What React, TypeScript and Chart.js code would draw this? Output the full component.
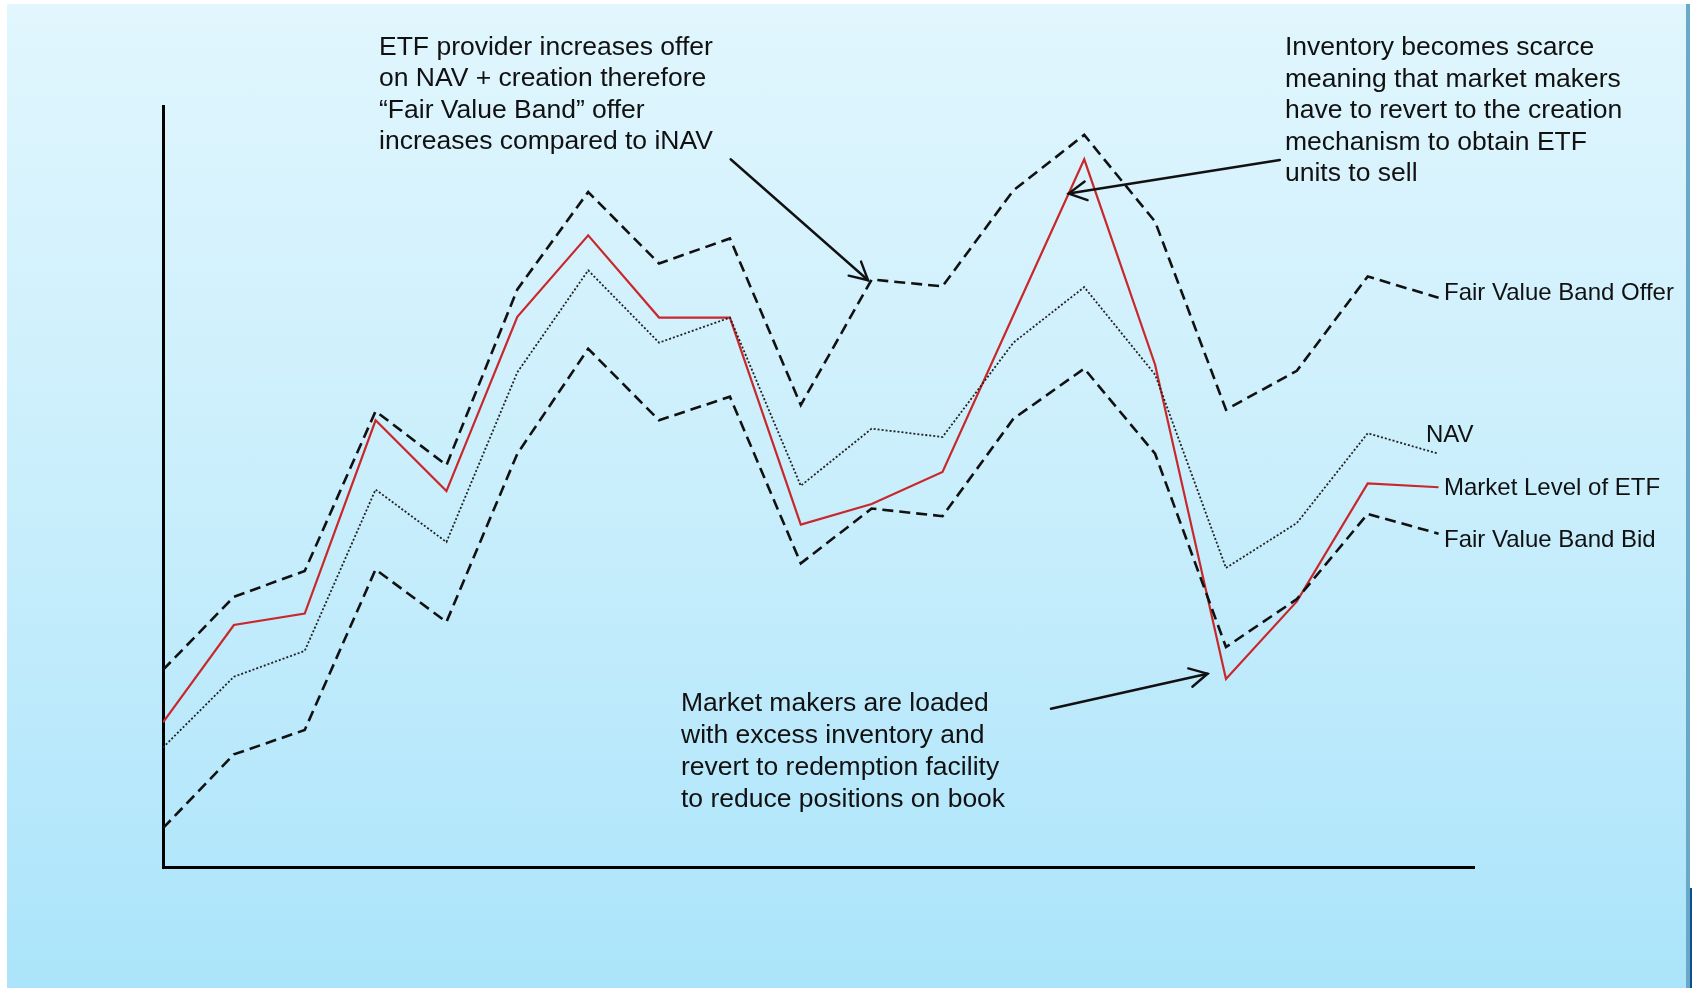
import React, { useEffect, useRef } from "react";
import { Chart, registerables } from "chart.js";

Chart.register(...registerables);

// ---- data (x = period index, y = relative price level 0..100) ----
const periods = [0, 1, 2, 3, 4, 5, 6, 7, 8, 9, 10, 11, 12, 13, 14, 15, 16, 17, 18];
const fairValueBandOffer = [25.9, 35.5, 38.9, 59.9, 52.8, 75.9, 88.7, 79.3, 82.6, 60.7, 77.2, 76.3, 88.9, 96.2, 84.8, 60.1, 65.2, 77.6, 74.8];
const nav = [15.7, 25.0, 28.4, 49.6, 42.7, 65.0, 78.4, 68.9, 72.2, 50.1, 57.6, 56.5, 68.9, 76.2, 64.7, 39.3, 45.2, 57.0, 54.3];
const marketLevel = [19.0, 31.8, 33.3, 58.7, 49.4, 72.3, 83.0, 72.2, 72.2, 45.0, 47.7, 51.9, 72.5, 93.0, 66.0, 24.7, 34.9, 50.4, 49.9];
const fairValueBandBid = [5.1, 14.8, 18.0, 39.1, 32.2, 54.3, 68.1, 58.7, 61.8, 39.9, 47.1, 46.1, 58.9, 65.5, 54.3, 28.9, 35.2, 46.4, 43.8];

const seriesLabels = ["Fair Value Band Offer", "NAV", "Market Level of ETF", "Fair Value Band Bid"];

const annotation1 = [
  "ETF provider increases offer",
  "on NAV + creation therefore",
  "\u201CFair Value Band\u201D offer",
  "increases compared to iNAV",
];
const annotation2 = [
  "Inventory becomes scarce",
  "meaning that market makers",
  "have to revert to the creation",
  "mechanism to obtain ETF",
  "units to sell",
];
const annotation3 = [
  "Market makers are loaded",
  "with excess inventory and",
  "revert to redemption facility",
  "to reduce positions on book",
];

// arrows in data coordinates: [fromX, fromY, toX, toY]
const arrows = [
  [8.01, 93.0, 9.95, 77.1],
  [15.76, 92.9, 12.78, 88.5],
  [12.53, 20.8, 14.74, 25.4],
];

const FONT = '"Liberation Sans", Arial, Helvetica, sans-serif';

const annotationPlugin = {
  id: "annotationsPlugin",
  afterDatasetsDraw(chart: any) {
    const ctx = chart.ctx as CanvasRenderingContext2D;
    const xs = chart.scales.x;
    const ys = chart.scales.y;
    ctx.save();
    ctx.fillStyle = "#111";
    ctx.textBaseline = "alphabetic";
    ctx.textAlign = "left";

    const drawBlock = (lines: string[], x: number, y: number, lh: number, size: number) => {
      ctx.font = `${size}px ${FONT}`;
      lines.forEach((t, i) => ctx.fillText(t, x, y + i * lh));
    };
    drawBlock(annotation1, 379, 55, 31.3, 26.5);
    drawBlock(annotation2, 1285, 55, 31.5, 26.5);
    drawBlock(annotation3, 681, 711, 32.1, 26.5);

    // series labels
    ctx.font = `24px ${FONT}`;
    const labelPos = [
      [1444, 300],
      [1426, 442],
      [1444, 495],
      [1444, 547],
    ];
    seriesLabels.forEach((t, i) => ctx.fillText(t, labelPos[i][0], labelPos[i][1]));

    // arrows
    ctx.strokeStyle = "#111";
    ctx.lineWidth = 2.4;
    ctx.lineCap = "round";
    arrows.forEach(([fx, fy, tx, ty]) => {
      const x1 = xs.getPixelForValue(fx);
      const y1 = ys.getPixelForValue(fy);
      const x2 = xs.getPixelForValue(tx);
      const y2 = ys.getPixelForValue(ty);
      ctx.beginPath();
      ctx.moveTo(x1, y1);
      ctx.lineTo(x2, y2);
      ctx.stroke();
      const ang = Math.atan2(y1 - y2, x1 - x2);
      const len = 20;
      const spread = (28 * Math.PI) / 180;
      ctx.beginPath();
      ctx.moveTo(x2 + len * Math.cos(ang - spread), y2 + len * Math.sin(ang - spread));
      ctx.lineTo(x2, y2);
      ctx.lineTo(x2 + len * Math.cos(ang + spread), y2 + len * Math.sin(ang + spread));
      ctx.stroke();
    });
    ctx.restore();
  },
};

const toPoints = (vals: number[]) => periods.map((p, i) => ({ x: p, y: vals[i] }));

export default function App() {
  const canvasRef = useRef<HTMLCanvasElement | null>(null);

  useEffect(() => {
    if (!canvasRef.current) return;
    const chart = new Chart(canvasRef.current, {
      type: "line",
      data: {
        datasets: [
          {
            label: seriesLabels[1],
            data: toPoints(nav),
            borderColor: "#222",
            borderWidth: 1.8,
            borderDash: [2, 2],
            pointRadius: 0,
            tension: 0,
          },
          {
            label: seriesLabels[3],
            data: toPoints(fairValueBandBid),
            borderColor: "#111",
            borderWidth: 2.6,
            borderDash: [11, 6],
            pointRadius: 0,
            tension: 0,
          },
          {
            label: seriesLabels[0],
            data: toPoints(fairValueBandOffer),
            borderColor: "#111",
            borderWidth: 2.6,
            borderDash: [11, 6],
            pointRadius: 0,
            tension: 0,
          },
          {
            label: seriesLabels[2],
            data: toPoints(marketLevel),
            borderColor: "#c8282b",
            borderWidth: 2.2,
            pointRadius: 0,
            tension: 0,
          },
        ],
      },
      options: {
        responsive: false,
        animation: false,
        devicePixelRatio: 1,
        layout: { padding: { left: 163, right: 218, top: 106, bottom: 121 } },
        plugins: {
          legend: { display: false },
          tooltip: { enabled: false },
        },
        scales: {
          x: {
            type: "linear",
            min: 0,
            max: 18.5,
            ticks: { display: false },
            grid: { display: false, drawTicks: false },
            border: { display: true, color: "#000", width: 3 },
          },
          y: {
            type: "linear",
            min: 0,
            max: 100,
            ticks: { display: false },
            grid: { display: false, drawTicks: false },
            border: { display: true, color: "#000", width: 3 },
          },
        },
      },
      plugins: [annotationPlugin],
    } as any);
    return () => chart.destroy();
  }, []);

  return (
    <div
      style={{
        position: "fixed",
        left: 0,
        top: 0,
        width: 1692,
        height: 988,
        background: "#fff",
        overflow: "hidden",
      }}
    >
      <div
        style={{
          position: "absolute",
          left: 7,
          top: 4,
          width: 1679,
          height: 984,
          background: "linear-gradient(to bottom, #e1f6fd 0%, #c9eefc 50%, #abe4fa 100%)",
        }}
      />
      <div style={{ position: "absolute", left: 1686, top: 4, width: 4, height: 984, background: "#6aa8c8" }} />
      <div style={{ position: "absolute", left: 1690, top: 888, width: 2, height: 100, background: "#0b4f8f" }} />
      <canvas
        ref={canvasRef}
        width={1692}
        height={988}
        style={{ position: "absolute", left: 0, top: 0, width: 1692, height: 988 }}
      />
    </div>
  );
}
